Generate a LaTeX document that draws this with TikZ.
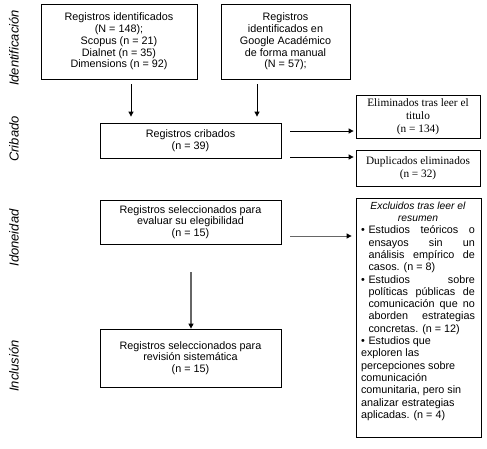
\documentclass[tikz,border=0pt]{standalone}
\usepackage{fontspec}
\setmainfont{Liberation Sans}
\newfontfamily\tnr{Liberation Serif}
\usetikzlibrary{calc,arrows.meta}
\begin{document}
\begin{tikzpicture}[x=1pt,y=-1pt,
  box/.style={draw,line width=0.8pt,align=center,inner sep=0pt,font=\fontsize{10.8}{11.8}\selectfont},
  tbox/.style={box,font=\tnr\fontsize{11.3}{13}\selectfont},
  arr/.style={line width=0.8pt,-{Triangle[length=5pt,width=5pt]}},
  garr/.style={line width=0.8pt,draw=black!60,-{Triangle[length=5pt,width=5pt,color=black,fill=black]}},
  phase/.style={rotate=90,font=\itshape\fontsize{13}{14}\selectfont}]
\useasboundingbox (0,0) rectangle (487,448);
% phase labels
\node[phase] (p1) at (14,48) {Identificación};
\node[phase] (p2) at (14,139) {Cribado};
\node[phase] (p3) at (14,238) {Idoneidad};
\node[phase] (p4) at (14,366) {Inclusión};
% boxes
\node[box,minimum width=156pt,minimum height=75pt] (b1) at (119,41.5)
  {Registros identificados\\(N = 148);\\Scopus (n = 21)\\Dialnet (n = 35)\\Dimensions (n = 92)};
\node[box,minimum width=129pt,minimum height=75pt] (b2) at (285.5,41.5)
  {Registros\\identificados en\\Google Académico\\de forma manual\\(N = 57);};
\node[box,minimum width=181pt,minimum height=35pt] (crib) at (190.5,140.5)
  {Registros cribados\\(n = 39)};
\node[box,minimum width=181pt,minimum height=44pt] (eval) at (190.5,222)
  {Registros seleccionados para\\evaluar su elegibilidad\\(n = 15)};
\node[box,minimum width=181pt,minimum height=58pt] (incl) at (190.5,358)
  {Registros seleccionados para\\revisión sistemática\\(n = 15)};
\node[tbox,minimum width=124pt,minimum height=43pt] (elim) at (418,116.5)
  {Eliminados tras leer el\\titulo\\(n = 134)};
\node[tbox,minimum width=124pt,minimum height=36pt] (dup) at (418,168)
  {Duplicados eliminados\\(n = 32)};
\node[draw,line width=0.8pt,minimum width=125pt,minimum height=239pt,inner sep=0pt] (excl) at (418.5,317.5) {};
\node[anchor=north,inner sep=0pt,font=\fontsize{10.8}{12.3}\selectfont] (excltxt) at ($(excl.north)+(-0.5,4)$)
  {\parbox{114pt}{%
  \centering{\itshape\fontsize{10.3}{12.3}\selectfont Excluidos tras leer el\\resumen\par}
  \leftskip=0pt\rightskip=0pt\parfillskip=0pt plus 1fil
  \hangindent=7.5pt\hangafter=1\noindent\makebox[7.5pt][l]{\textbullet}Estudios teóricos o\linebreak ensayos sin un\linebreak análisis empírico de\linebreak casos. (n = 8)\par
  \hangindent=7.5pt\hangafter=1\noindent\makebox[7.5pt][l]{\textbullet}Estudios sobre\linebreak políticas públicas de\linebreak comunicación que no\linebreak aborden estrategias\linebreak concretas. (n = 12)\par
  \raggedright
  \hangindent=7.5pt\hangafter=1\noindent\makebox[7.5pt][l]{\textbullet}Estudios que\\exploren las\\percepciones sobre\\comunicación\\comunitaria, pero sin\\analizar estrategias\\aplicadas. (n = 4)\par}};
% connector end points
\coordinate (a1) at ($(b1.south)+(12,0)$);
\coordinate (a2) at ($(b2.south)+(-28.5,0)$);
\coordinate (a3) at ($(crib.east)+(0,-9.5)$);
\coordinate (a4) at ($(crib.east)+(0,16.5)$);
\coordinate (a5) at ($(eval.east)+(0,14)$);
\coordinate (a6) at ($(eval.south)+(0.5,0)$);
% arrows
\draw[arr,shorten <=5pt,shorten >=6pt] (a1) -- (a1 |- crib.north);
\draw[arr,shorten <=5pt,shorten >=6pt] (a2) -- (a2 |- crib.north);
\draw[arr,shorten <=9pt,shorten >=2pt] (a3) -- (a3 -| elim.west);
\draw[arr,shorten <=9pt,shorten >=2pt] (a4) -- (a4 -| dup.west);
\draw[garr,shorten <=9pt,shorten >=4pt] (a5) -- (a5 -| excl.west);
\draw[garr,line width=1.2pt,shorten <=28pt,shorten >=0pt] (a6) -- (a6 |- incl.north);
\end{tikzpicture}
\end{document}
